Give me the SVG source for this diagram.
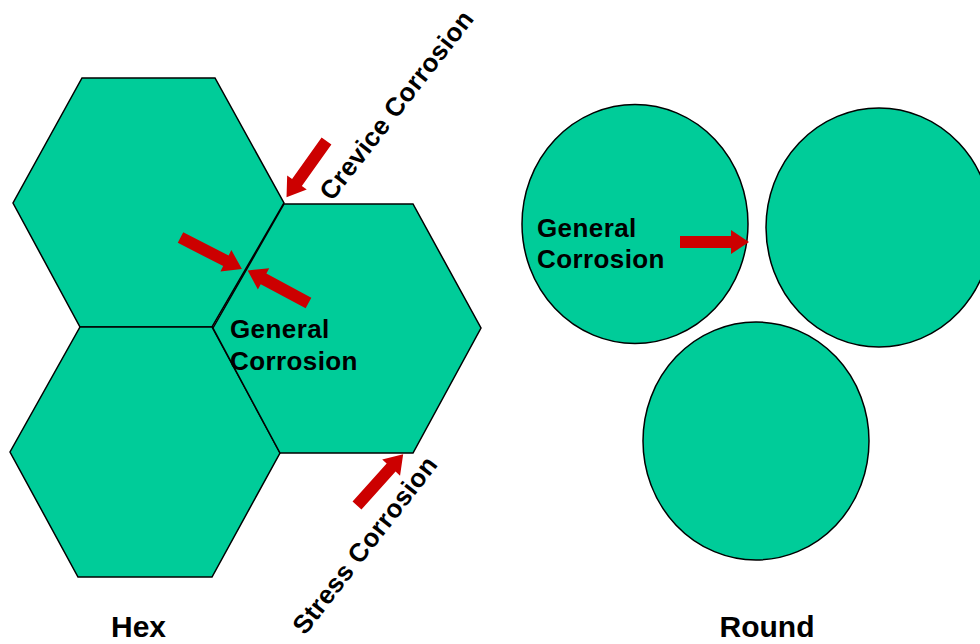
<svg xmlns="http://www.w3.org/2000/svg" xmlns:xlink="http://www.w3.org/1999/xlink" width="980" height="644" viewBox="0 0 980 644">
  <style>
    .grain { fill: #00CC99; stroke: #000; stroke-width: 1.5; stroke-linejoin: miter; }
    .arrow { fill: #CC0000; }
    .lbl { font-family: "Liberation Sans", Arial, sans-serif; font-weight: bold; font-size: 26px; letter-spacing: 0.4px; fill: #000; }
    .title { font-family: "Liberation Sans", Arial, sans-serif; font-weight: bold; font-size: 30px; fill: #000; text-anchor: middle; }
  </style>
  <defs>
    <path id="arrowShape" d="M0,-6 H51 V-12 L69,0 L51,12 V6 H0 Z"/>
  </defs>
  <rect width="980" height="644" fill="#fff"/>

  <g id="hex1"><polygon class="grain" points="82,78 215,78 284,203 212,327 80,327 13,203"/></g>
  <g id="hex3"><polygon class="grain" points="80,327 212,327 280,453 212,577 78,577 10,452"/></g>
  <g id="hex2"><polygon class="grain" points="284,204 413,204 481,328 413,453 280,453 213,328"/></g>

  <g id="circle1"><ellipse class="grain" cx="635" cy="224" rx="113" ry="119.5"/></g>
  <g id="circle2"><ellipse class="grain" cx="879" cy="227.5" rx="113" ry="119.5"/></g>
  <g id="circle3"><ellipse class="grain" cx="756" cy="441" rx="113" ry="119"/></g>

  <g id="connectors" class="arrow">
    <use xlink:href="#arrowShape" href="#arrowShape" transform="translate(326.5,141) rotate(125.4)"/>
    <use xlink:href="#arrowShape" href="#arrowShape" transform="translate(180.5,237.5) rotate(27.1)"/>
    <use xlink:href="#arrowShape" href="#arrowShape" transform="translate(308.5,303) rotate(208.2)"/>
    <use xlink:href="#arrowShape" href="#arrowShape" transform="translate(357,505.5) rotate(-48)"/>
    <use xlink:href="#arrowShape" href="#arrowShape" transform="translate(680,242)"/>
  </g>

  <g id="labels">
    <text class="lbl" x="230" y="338">General</text>
    <text class="lbl" x="230" y="370">Corrosion</text>
    <text class="lbl" x="537" y="237">General</text>
    <text class="lbl" x="537" y="268">Corrosion</text>
    <text class="lbl" transform="translate(332,202) rotate(-52)">Crevice Corrosion</text>
    <text class="lbl" transform="translate(305,636) rotate(-52)">Stress Corrosion</text>
    <text class="title" x="138.5" y="637">Hex</text>
    <text class="title" x="767" y="637">Round</text>
  </g>
</svg>
